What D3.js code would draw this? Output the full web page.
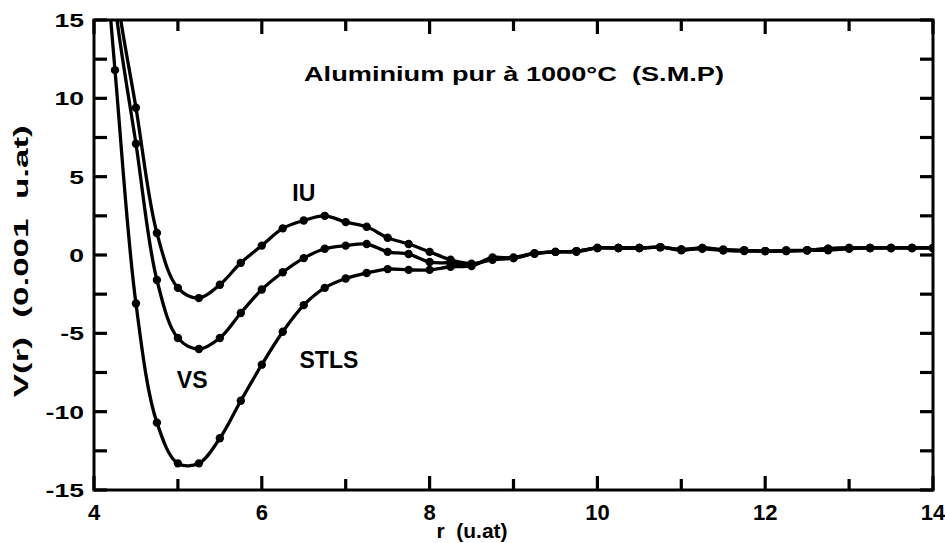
<!DOCTYPE html>
<html><head><meta charset="utf-8">
<script src="https://cdn.jsdelivr.net/npm/d3@7/dist/d3.min.js"></script>
<style>
body{margin:0;background:#fff;}
svg{display:block;}
text{font-family:"Liberation Sans",Arial,sans-serif;fill:#000;font-weight:bold;white-space:pre;}
</style></head>
<body>
<svg id="c" width="945" height="543"></svg>
<script>
// r grid (u.at)
const rValues = [4.0,4.25,4.5,4.75,5.0,5.25,5.5,5.75,6.0,6.25,6.5,6.75,7.0,7.25,7.5,7.75,8.0,8.25,8.5,8.75,9.0,9.25,9.5,9.75,10.0,10.25,10.5,10.75,11.0,11.25,11.5,11.75,12.0,12.25,12.5,12.75,13.0,13.25,13.5,13.75,14.0];
// V(r) in 0.001 u.at
const iuValues   = [32,17.5,9.4,1.4,-2.1,-2.75,-1.9,-0.5,0.6,1.7,2.2,2.5,2.1,1.8,1.1,0.7,0.2,-0.3,-0.55,-0.3,-0.2,0.1,0.2,0.25,0.45,0.45,0.45,0.5,0.35,0.45,0.35,0.3,0.25,0.3,0.3,0.4,0.45,0.45,0.45,0.45,0.45];
const vsValues   = [30,16.0,7.1,-1.6,-5.3,-6.0,-5.3,-3.7,-2.2,-1.1,-0.2,0.4,0.6,0.7,0.2,0.06,-0.45,-0.5,-0.6,-0.25,-0.15,0.1,0.2,0.25,0.45,0.45,0.45,0.5,0.3,0.45,0.3,0.25,0.25,0.25,0.3,0.4,0.45,0.45,0.45,0.45,0.45];
const stlsValues = [28,11.8,-3.1,-10.7,-13.3,-13.3,-11.7,-9.3,-7.0,-4.9,-3.2,-2.1,-1.5,-1.15,-0.9,-0.95,-0.95,-0.75,-0.7,-0.15,-0.2,0.1,0.2,0.2,0.45,0.45,0.45,0.5,0.35,0.4,0.3,0.3,0.25,0.25,0.3,0.3,0.4,0.45,0.45,0.45,0.45];
const seriesNames = ["IU","VS","STLS"];
const xMajorTicks = [4,6,8,10,12,14];
const xMinorTicks = [5,7,9,11,13];
const yMajorTicks = [-15,-10,-5,0,5,10,15];
const yMinorTicks = [-12.5,-7.5,-2.5,2.5,7.5,12.5];
const titleText = "Aluminium pur à 1000°C  (S.M.P)";
const xTitle = "r  (u.at)";
const yTitle = "V(r)  (0.001  u.at)";

const svg = d3.select("#c");
const L=94,R=933,T=20,B=490;
const x = d3.scaleLinear().domain([4,14]).range([L,R]);
const y = d3.scaleLinear().domain([-15,15]).range([B,T]);

svg.append("defs").append("clipPath").attr("id","clip")
  .append("rect").attr("x",L).attr("y",T).attr("width",R-L).attr("height",B-T);

const series = [iuValues, vsValues, stlsValues].map((vals,i)=>({
  name: seriesNames[i], pts: rValues.map((r,j)=>({r, v: vals[j]}))
}));

const line = d3.line().x(d=>x(d.r)).y(d=>y(d.v)).curve(d3.curveCatmullRom.alpha(0.5));
const g = svg.append("g").attr("clip-path","url(#clip)");
series.forEach(s=>{
  g.append("path").attr("d", line(s.pts)).attr("fill","none")
   .attr("stroke","#000").attr("stroke-width",3.3).attr("stroke-linejoin","round");
  g.selectAll(null).data(s.pts).enter().append("circle")
   .attr("cx",d=>x(d.r)).attr("cy",d=>y(d.v)).attr("r",4.2).attr("fill","#000");
});

svg.append("rect").attr("x",L).attr("y",T).attr("width",R-L).attr("height",B-T)
  .attr("fill","none").attr("stroke","#000").attr("stroke-width",3);

// inward ticks on all four sides
const TW = 3.2;
const tickData = [];
xMajorTicks.forEach(v=>tickData.push({k:"x",v,len:14}));
xMinorTicks.forEach(v=>tickData.push({k:"x",v,len:11}));
yMajorTicks.forEach(v=>tickData.push({k:"y",v,len:13}));
yMinorTicks.forEach(v=>tickData.push({k:"y",v,len:13}));
const tk = svg.append("g").attr("fill","#000");
tk.selectAll(null).data(tickData.filter(d=>d.k==="x")).enter().append("rect")
  .attr("x",d=>x(d.v)-TW/2).attr("y",d=>B-d.len).attr("width",TW).attr("height",d=>d.len);
tk.selectAll(null).data(tickData.filter(d=>d.k==="x")).enter().append("rect")
  .attr("x",d=>x(d.v)-TW/2).attr("y",T).attr("width",TW).attr("height",d=>d.len);
tk.selectAll(null).data(tickData.filter(d=>d.k==="y")).enter().append("rect")
  .attr("x",L).attr("y",d=>y(d.v)-TW/2).attr("width",d=>d.len).attr("height",TW);
tk.selectAll(null).data(tickData.filter(d=>d.k==="y")).enter().append("rect")
  .attr("x",d=>R-d.len).attr("y",d=>y(d.v)-TW/2).attr("width",d=>d.len).attr("height",TW);

// tick labels
svg.selectAll(null).data(xMajorTicks).enter().append("text")
  .attr("x",d=>x(d)).attr("y",520).attr("text-anchor","middle")
  .style("font-size","22px").text(d=>String(d));
svg.selectAll(null).data(yMajorTicks).enter().append("text")
  .attr("transform",d=>`translate(84,${y(d)+7}) scale(1.4,1)`).attr("text-anchor","end")
  .style("font-size","19px").text(d=>String(d));

svg.append("text").attr("x",514).attr("y",81).attr("text-anchor","middle")
  .attr("textLength",420).attr("lengthAdjust","spacingAndGlyphs")
  .style("font-size","21px").text(titleText);
svg.append("text").attr("x",472).attr("y",538).attr("text-anchor","middle")
  .style("font-size","21px").text(xTitle);
svg.append("text").attr("transform",`translate(28,${y(-0.4)}) rotate(-90)`).attr("text-anchor","middle")
  .attr("textLength",272).attr("lengthAdjust","spacingAndGlyphs")
  .style("font-size","21px").text(yTitle);

const labels = [{t:"IU",r:6.5,v:3.45},{t:"VS",r:5.17,v:-8.5},{t:"STLS",r:6.8,v:-7.2}];
svg.selectAll(null).data(labels).enter().append("text")
  .attr("x",d=>x(d.r)).attr("y",d=>y(d.v)).attr("text-anchor","middle")
  .style("font-size","23px").text(d=>d.t);
</script>
</body></html>
